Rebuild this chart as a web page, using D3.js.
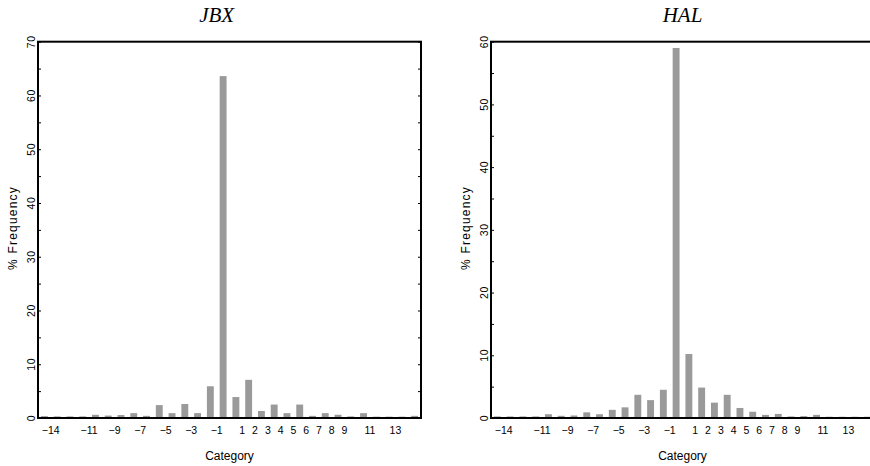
<!DOCTYPE html>
<html>
<head>
<meta charset="utf-8">
<script src="https://cdn.jsdelivr.net/npm/d3@7"></script>
<style>
  html, body { margin: 0; padding: 0; background: #ffffff; }
  svg { display: block; }
</style>
</head>
<body>
<svg id="chart" width="870" height="466"></svg>
<script>
// ---- Data ----
const categories = [-15,-14,-13,-12,-11,-10,-9,-8,-7,-6,-5,-4,-3,-2,-1,0,1,2,3,4,5,6,7,8,9,10,11,12,13,14];
const jbxValues = [0.35,0.3,0.3,0.3,0.6,0.45,0.55,0.9,0.4,2.4,0.9,2.6,0.9,5.9,63.6,3.9,7.1,1.3,2.5,0.9,2.5,0.4,0.9,0.6,0.3,0.9,0.25,0.25,0.25,0.4];
const halValues = [0.25,0.25,0.25,0.25,0.6,0.35,0.4,0.9,0.6,1.3,1.7,3.7,2.85,4.5,59.0,10.2,4.85,2.45,3.7,1.6,1.0,0.5,0.65,0.25,0.3,0.5,0.2,0.2,0.2,0.2];
const xTickLabels = [-14,-11,-9,-7,-5,-3,-1,1,2,3,4,5,6,7,8,9,11,13];
const jbxYMax = 70;
const halYMax = 60;
const panelTitles = ["JBX", "HAL"];
const xAxisTitle = "Category";
const yAxisTitle = "% Frequency";

(function () {
// ---- Layout ----
const svg = d3.select("#chart");
const plotTop = 41.7, plotBottom = 418, frameW = 383;
const panels = [
  { title: panelTitles[0], values: jbxValues, yMax: jbxYMax, left: 38,  titleX: 216.7 },
  { title: panelTitles[1], values: halValues, yMax: halYMax, left: 491, titleX: 682.5 }
];
const barColor = "#9a9a9a";
const sans = "'Liberation Sans', Arial, sans-serif";
const fmt = v => v < 0 ? "\u2212" + Math.abs(v) : String(v);

panels.forEach(p => {
  const L = p.left, R = p.left + frameW;
  const x = d3.scaleBand().domain(categories).range([L, R]).paddingInner(0.46).paddingOuter(0.23);
  const y = d3.scaleLinear().domain([0, p.yMax]).range([plotBottom, plotTop]);
  const g = svg.append("g");

  // bars
  g.selectAll("rect.bar").data(categories.map((c, i) => ({ c, v: p.values[i] })))
    .enter().append("rect")
    .attr("class", "bar")
    .attr("x", d => x(d.c))
    .attr("width", x.bandwidth())
    .attr("y", d => y(d.v))
    .attr("height", d => plotBottom - y(d.v))
    .attr("fill", barColor);

  // y axis (left) with inward ticks every 5, labels every 10
  const yTicks = d3.range(0, p.yMax + 0.001, 5);
  const yAxis = d3.axisLeft(y).tickValues(yTicks).tickSize(-3).tickFormat("");
  const ya = g.append("g").attr("transform", `translate(${L},0)`).call(yAxis);
  ya.select(".domain").remove();
  ya.selectAll(".tick line").attr("stroke", "#000").attr("stroke-width", 1);

  // right side mirrored ticks
  const yAxisR = d3.axisRight(y).tickValues(yTicks).tickSize(-3).tickFormat("");
  const yr = g.append("g").attr("transform", `translate(${R},0)`).call(yAxisR);
  yr.select(".domain").remove();
  yr.selectAll(".tick line").attr("stroke", "#000").attr("stroke-width", 1);

  // rotated y tick labels
  g.selectAll("text.ylab").data(yTicks.filter(t => t % 10 === 0))
    .enter().append("text")
    .attr("class", "ylab")
    .attr("transform", d => `translate(${L - 3},${y(d)}) rotate(-90)`)
    .attr("text-anchor", "middle")
    .attr("font-family", sans)
    .attr("font-size", 10.5)
    .attr("letter-spacing", 0.6)
    .attr("fill", "#000")
    .text(d => d);

  // frame
  g.append("rect")
    .attr("x", L).attr("y", plotTop)
    .attr("width", frameW).attr("height", plotBottom - plotTop)
    .attr("fill", "none").attr("stroke", "#000").attr("stroke-width", 2);

  // x tick labels (placed at band step start)
  g.selectAll("text.xlab").data(xTickLabels)
    .enter().append("text")
    .attr("class", "xlab")
    .attr("x", d => x(d) + x.bandwidth() / 2 - x.step() / 2)
    .attr("y", 434)
    .attr("text-anchor", "middle")
    .attr("font-family", sans)
    .attr("font-size", 10.5)
    .attr("fill", "#000")
    .text(d => fmt(d));

  // axis titles
  g.append("text")
    .attr("x", (L + L + frameW) / 2).attr("y", 460)
    .attr("text-anchor", "middle")
    .attr("font-family", sans).attr("font-size", 12)
    .attr("fill", "#000")
    .text(xAxisTitle);

  g.append("text")
    .attr("transform", `translate(${L - 21},${228}) rotate(-90)`)
    .attr("text-anchor", "middle")
    .attr("font-family", sans).attr("font-size", 12)
    .attr("letter-spacing", 1.2)
    .attr("fill", "#000")
    .text(yAxisTitle);

  // panel title
  g.append("text")
    .attr("x", p.titleX).attr("y", 22)
    .attr("text-anchor", "middle")
    .attr("font-family", "'Liberation Serif', 'Times New Roman', serif")
    .attr("font-style", "italic")
    .attr("font-size", 21)
    .attr("fill", "#000")
    .text(p.title);
});
})();
</script>
</body>
</html>
